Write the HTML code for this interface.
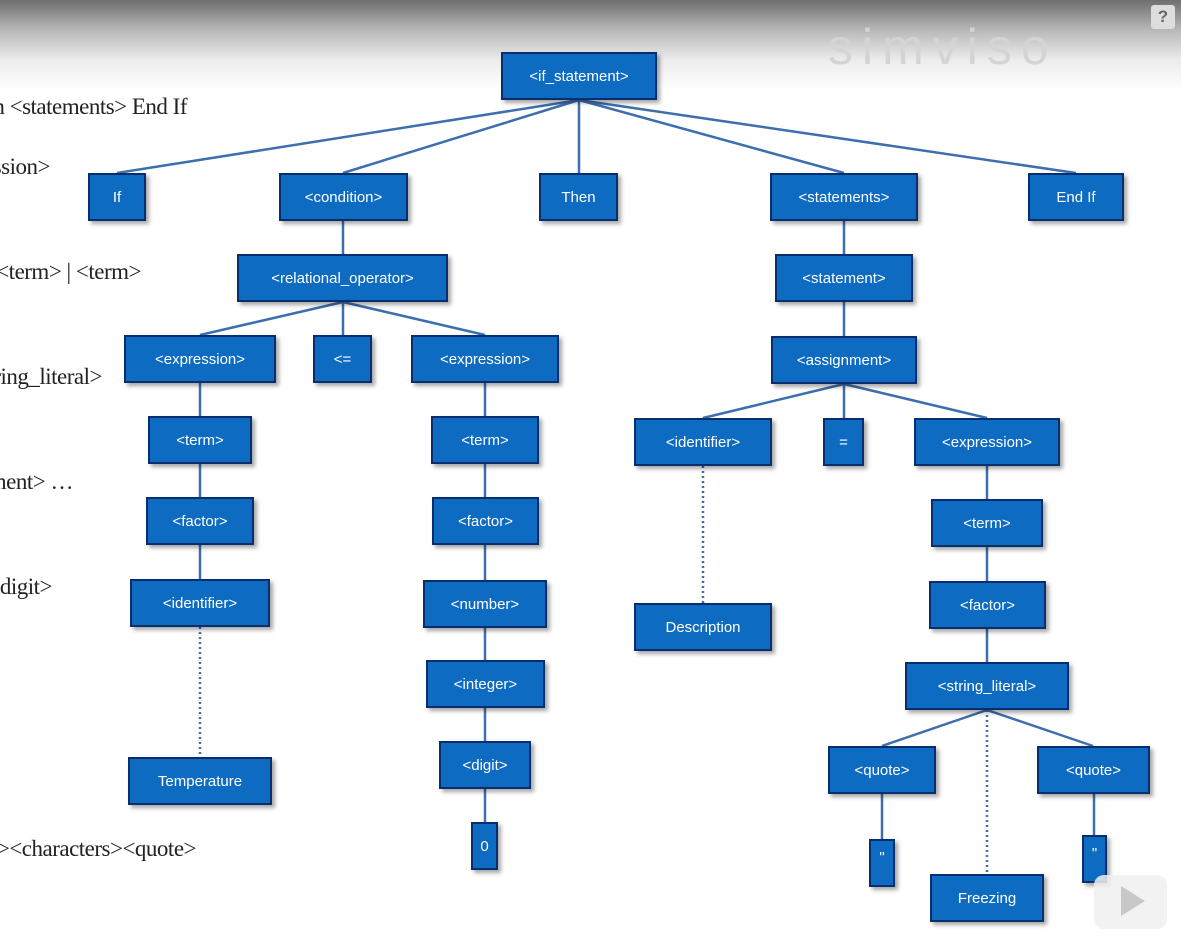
<!DOCTYPE html>
<html><head><meta charset="utf-8"><style>
html,body{margin:0;padding:0}
body{width:1181px;height:939px;overflow:hidden;position:relative;font-family:"Liberation Sans",sans-serif;background:#fff}
#w{position:absolute;left:0;top:0;width:1181px;height:939px;overflow:hidden;
background:linear-gradient(#6e6e6e 0px,#b8b8b8 30px,#ececec 60px,#fff 90px,#fff 100%);}
.n{position:absolute;box-sizing:border-box;background:#0e6bc2;border:2px solid #0a2d6e;color:#fff;font-size:15px;
display:flex;align-items:center;justify-content:center;box-shadow:3px 3px 4px rgba(0,0,0,.35);white-space:nowrap}
.t{position:absolute;font-family:"Liberation Serif",serif;font-size:23px;color:#222;white-space:nowrap;text-align:right;letter-spacing:-0.5px}
svg{position:absolute;left:0;top:0}
</style></head><body><div id="w">
<div class="t" style="right:994px;top:94px">&lt;if_statement&gt; ::= If &lt;condition&gt; Then &lt;statements&gt; End If</div>
<div class="t" style="right:1131px;top:154px">&lt;condition&gt; ::= &lt;expression&gt;</div>
<div class="t" style="right:1040px;top:259px">&lt;expression&gt; ::= &lt;term&gt; | &lt;term&gt;</div>
<div class="t" style="right:1079px;top:364px">&lt;factor&gt; ::= &lt;string_literal&gt;</div>
<div class="t" style="right:1108px;top:469px">&lt;statements&gt; ::= &lt;statement&gt; …</div>
<div class="t" style="right:1129px;top:574px">&lt;integer&gt; ::= &lt;digit&gt;</div>
<div class="t" style="right:985px;top:836px">&lt;string&gt; ::= &lt;quote&gt;&lt;characters&gt;&lt;quote&gt;</div>
<div style="position:absolute;left:828px;top:18px;font-size:50px;letter-spacing:9px;color:#d4d4d4">simviso</div>
<div style="position:absolute;left:1151px;top:5px;width:24px;height:24px;background:#ddd;border-radius:3px;color:#666;font-weight:bold;text-align:center;font-size:17px;line-height:24px">?</div>
<svg width="1181" height="939">
<g stroke="#3d6fae" stroke-width="2.5" fill="none">
<line x1="579" y1="100" x2="117" y2="173"/><line x1="579" y1="100" x2="343" y2="173"/>
<line x1="579" y1="100" x2="579" y2="173"/><line x1="579" y1="100" x2="844" y2="173"/>
<line x1="579" y1="100" x2="1076" y2="173"/>
<line x1="343" y1="221" x2="343" y2="254"/><line x1="844" y1="221" x2="844" y2="254"/>
<line x1="343" y1="302" x2="200" y2="335"/><line x1="343" y1="302" x2="343" y2="335"/><line x1="343" y1="302" x2="485" y2="335"/>
<line x1="844" y1="302" x2="844" y2="336"/>
<line x1="844" y1="384" x2="703" y2="418"/><line x1="844" y1="384" x2="844" y2="418"/><line x1="844" y1="384" x2="987" y2="418"/>
<line x1="200" y1="383" x2="200" y2="416"/><line x1="200" y1="464" x2="200" y2="497"/><line x1="200" y1="545" x2="200" y2="579"/>
<line x1="485" y1="383" x2="485" y2="416"/><line x1="485" y1="464" x2="485" y2="497"/><line x1="485" y1="545" x2="485" y2="580"/>
<line x1="485" y1="628" x2="485" y2="660"/><line x1="485" y1="708" x2="485" y2="741"/><line x1="485" y1="789" x2="485" y2="822"/>
<line x1="987" y1="466" x2="987" y2="499"/><line x1="987" y1="547" x2="987" y2="581"/><line x1="987" y1="629" x2="987" y2="662"/>
<line x1="987" y1="710" x2="882" y2="746"/><line x1="987" y1="710" x2="1093" y2="746"/>
<line x1="882" y1="794" x2="882" y2="839"/><line x1="1094" y1="794" x2="1094" y2="835"/>
</g>
<g stroke="#3d6fae" stroke-width="2.5" stroke-dasharray="2 3" fill="none">
<line x1="200" y1="627" x2="200" y2="757"/><line x1="703" y1="466" x2="703" y2="603"/><line x1="987" y1="710" x2="987" y2="874"/>
</g>
</svg>
<div class="n" style="left:501px;top:52px;width:156px;height:48px">&lt;if_statement&gt;</div>
<div class="n" style="left:88px;top:173px;width:58px;height:48px">If</div>
<div class="n" style="left:279px;top:173px;width:129px;height:48px">&lt;condition&gt;</div>
<div class="n" style="left:539px;top:173px;width:79px;height:48px">Then</div>
<div class="n" style="left:770px;top:173px;width:148px;height:48px">&lt;statements&gt;</div>
<div class="n" style="left:1028px;top:173px;width:96px;height:48px">End If</div>
<div class="n" style="left:237px;top:254px;width:211px;height:48px">&lt;relational_operator&gt;</div>
<div class="n" style="left:775px;top:254px;width:138px;height:48px">&lt;statement&gt;</div>
<div class="n" style="left:124px;top:335px;width:152px;height:48px">&lt;expression&gt;</div>
<div class="n" style="left:313px;top:335px;width:59px;height:48px">&lt;=</div>
<div class="n" style="left:411px;top:335px;width:148px;height:48px">&lt;expression&gt;</div>
<div class="n" style="left:771px;top:336px;width:146px;height:48px">&lt;assignment&gt;</div>
<div class="n" style="left:148px;top:416px;width:104px;height:48px">&lt;term&gt;</div>
<div class="n" style="left:431px;top:416px;width:108px;height:48px">&lt;term&gt;</div>
<div class="n" style="left:634px;top:418px;width:138px;height:48px">&lt;identifier&gt;</div>
<div class="n" style="left:823px;top:418px;width:41px;height:48px">=</div>
<div class="n" style="left:914px;top:418px;width:146px;height:48px">&lt;expression&gt;</div>
<div class="n" style="left:146px;top:497px;width:108px;height:48px">&lt;factor&gt;</div>
<div class="n" style="left:432px;top:497px;width:107px;height:48px">&lt;factor&gt;</div>
<div class="n" style="left:931px;top:499px;width:112px;height:48px">&lt;term&gt;</div>
<div class="n" style="left:130px;top:579px;width:140px;height:48px">&lt;identifier&gt;</div>
<div class="n" style="left:423px;top:580px;width:124px;height:48px">&lt;number&gt;</div>
<div class="n" style="left:634px;top:603px;width:138px;height:48px">Description</div>
<div class="n" style="left:929px;top:581px;width:117px;height:48px">&lt;factor&gt;</div>
<div class="n" style="left:426px;top:660px;width:119px;height:48px">&lt;integer&gt;</div>
<div class="n" style="left:905px;top:662px;width:164px;height:48px">&lt;string_literal&gt;</div>
<div class="n" style="left:128px;top:757px;width:144px;height:48px">Temperature</div>
<div class="n" style="left:439px;top:741px;width:92px;height:48px">&lt;digit&gt;</div>
<div class="n" style="left:828px;top:746px;width:108px;height:48px">&lt;quote&gt;</div>
<div class="n" style="left:1037px;top:746px;width:113px;height:48px">&lt;quote&gt;</div>
<div class="n" style="left:471px;top:822px;width:27px;height:48px">0</div>
<div class="n" style="left:869px;top:839px;width:26px;height:48px;align-items:flex-start;padding-top:8px">"</div>
<div class="n" style="left:930px;top:874px;width:114px;height:48px">Freezing</div>
<div class="n" style="left:1082px;top:835px;width:25px;height:48px;align-items:flex-start;padding-top:8px">"</div>
<div style="position:absolute;left:1094px;top:875px;width:73px;height:54px;border-radius:10px;background:rgba(240,240,240,.85)"></div>
<div style="position:absolute;left:1121px;top:886px;width:0;height:0;border-left:24px solid #c8c8c8;border-top:15px solid transparent;border-bottom:15px solid transparent"></div>
</div></body></html>
